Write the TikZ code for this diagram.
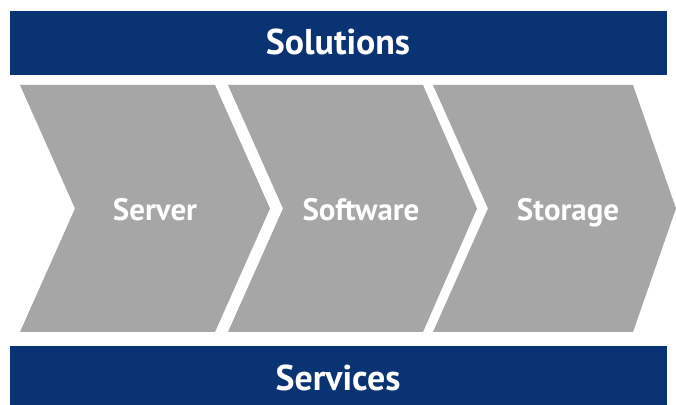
\documentclass[tikz,border=0pt]{standalone}
\usepackage{fontspec}
\setmainfont{PT Sans}
\definecolor{barblue}{RGB}{10,51,116}
\definecolor{arrowgray}{RGB}{166,166,166}

\tikzset{
    bar/.style={fill=barblue},
    bartext/.style={text=white, font=\fontsize{25.5}{28}\selectfont\bfseries, anchor=base, inner sep=0pt},
    steptext/.style={text=white, font=\fontsize{22}{25}\selectfont\bfseries, anchor=base, inner sep=0pt}
}

\begin{document}
\begin{tikzpicture}[x=0.025cm, y=-0.025cm]
    \useasboundingbox (0,0) rectangle (676,405);
    % top and bottom bars
    \fill[bar] (10,11) rectangle (667,75);
    \fill[bar] (10,346) rectangle (667,405);
    \node[bartext] (solutions) at (338,55) {Solutions};
    \node[bartext] (services) at (338,390) {Services};
    % chevrons
    \foreach \l/\r/\t in {20/215/270, 228/423/477, 433/633/676}
        \fill[arrowgray] (\l,85) -- (\r,85) -- (\t,208.5) -- (\r,332) -- (\l,332) -- (\l+55,208.5) -- cycle;
    \node[steptext] (server) at (155,221) {Server};
    \node[steptext] (software) at (361,221) {Software};
    \node[steptext] (storage) at (568,221) {Storage};
\end{tikzpicture}
\end{document}
